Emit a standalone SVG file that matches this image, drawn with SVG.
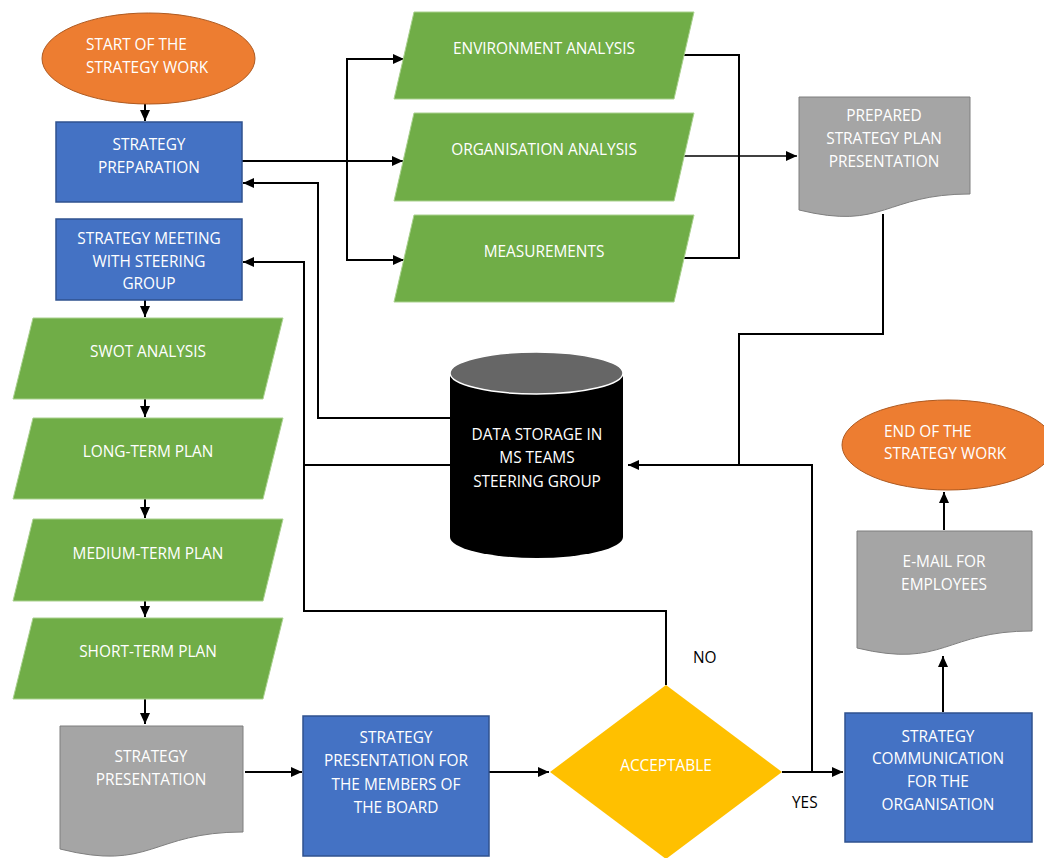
<svg xmlns="http://www.w3.org/2000/svg" width="1044" height="858" viewBox="0 0 1044 858">
<defs>
<marker id="arr" markerUnits="userSpaceOnUse" markerWidth="12" markerHeight="10" refX="11" refY="5" orient="auto">
<path d="M0,0 L11,5 L0,10 Z" fill="#000"/>
</marker>
<style>
text{font-family:"Open Sans","Noto Sans","Liberation Sans",sans-serif;font-size:15.4px;fill:#fff;text-anchor:middle}
.lbl{fill:#000;text-anchor:start}
.st{text-anchor:start}
.term{fill:#ED7D31;stroke:#AE5A21;stroke-width:1}
.proc{fill:#4472C4;stroke:#2F528F;stroke-width:1.5}
.data{fill:#70AD47;stroke:#A9D18E;stroke-width:1}
.doc{fill:#A5A5A5;stroke:#7F7F7F;stroke-width:1}
.dec{fill:#FFC000}
.ln{fill:none;stroke:#000;stroke-width:2}
.thin{stroke-width:1.5}
</style>
</defs>
<rect width="1044" height="858" fill="#fff"/>

<g id="connectors">
<path class="ln" d="M145,104 V121" marker-end="url(#arr)"/>
<path class="ln" d="M242,161 H403" marker-end="url(#arr)"/>
<path class="ln" d="M347,161 V59 H404" marker-end="url(#arr)"/>
<path class="ln" d="M347,161 V260 H404" marker-end="url(#arr)"/>
<path class="ln" d="M684,55 H739 V258 H683"/>
<path class="ln thin" d="M683,156 H797" marker-end="url(#arr)"/>
<path class="ln" d="M883,214 V334 H739 V465 H628" marker-end="url(#arr)"/>
<path class="ln" d="M812,772 V465 H739"/>
<path class="ln" d="M450,418 H318 V183 H243" marker-end="url(#arr)"/>
<path class="ln" d="M450,465 H304 V262 H243" marker-end="url(#arr)"/>
<path class="ln" d="M666,685 V611 H304 V465"/>
<path class="ln" d="M145,300 V317" marker-end="url(#arr)"/>
<path class="ln" d="M145,399 V417" marker-end="url(#arr)"/>
<path class="ln" d="M145,499 V518" marker-end="url(#arr)"/>
<path class="ln" d="M145,601 V617" marker-end="url(#arr)"/>
<path class="ln" d="M145,699 V724" marker-end="url(#arr)"/>
<path class="ln" d="M245,772 H302" marker-end="url(#arr)"/>
<path class="ln" d="M489,772 H549" marker-end="url(#arr)"/>
<path class="ln" d="M782,772 H843" marker-end="url(#arr)"/>
<path class="ln" d="M943,712 V656" marker-end="url(#arr)"/>
<path class="ln" d="M944,530 V492" marker-end="url(#arr)"/>
</g>

<g id="start">
<ellipse class="term" cx="148.5" cy="58.5" rx="106.5" ry="45.5"/>
<text class="st" x="86" y="50">START OF THE</text>
<text class="st" x="86" y="73">STRATEGY WORK</text>
</g>

<g id="prep">
<rect class="proc" x="56" y="122" width="186" height="80"/>
<text x="149" y="150">STRATEGY</text>
<text x="149" y="173">PREPARATION</text>
</g>

<g id="meeting">
<rect class="proc" x="56" y="219" width="186" height="81"/>
<text x="149" y="244">STRATEGY MEETING</text>
<text x="149" y="267">WITH STEERING</text>
<text x="149" y="289">GROUP</text>
</g>

<g id="swot">
<polygon class="data" points="33,318 283,318 263,399 13,399"/>
<text x="148" y="357">SWOT ANALYSIS</text>
</g>
<g id="longterm">
<polygon class="data" points="33,418 283,418 263,499 13,499"/>
<text x="148" y="457">LONG-TERM PLAN</text>
</g>
<g id="mediumterm">
<polygon class="data" points="33,519 283,519 263,601 13,601"/>
<text x="148" y="559">MEDIUM-TERM PLAN</text>
</g>
<g id="shortterm">
<polygon class="data" points="33,618 283,618 263,699 13,699"/>
<text x="148" y="657">SHORT-TERM PLAN</text>
</g>

<g id="env">
<polygon class="data" points="414,12 694,12 674,99 394,99"/>
<text x="544" y="54">ENVIRONMENT ANALYSIS</text>
</g>
<g id="org">
<polygon class="data" points="414,113 694,113 674,201 394,201"/>
<text x="544" y="155">ORGANISATION ANALYSIS</text>
</g>
<g id="meas">
<polygon class="data" points="414,215 694,215 674,302 394,302"/>
<text x="544" y="257">MEASUREMENTS</text>
</g>

<g id="prepared">
<path class="doc" d="M799,97 H970 V194 C884.5,194 884.5,231 799,210 Z"/>
<text x="884" y="121">PREPARED</text>
<text x="884" y="144">STRATEGY PLAN</text>
<text x="884" y="167">PRESENTATION</text>
</g>

<g id="storage">
<path d="M450,373 V537 A86.5,21 0 0 0 623,537 V373 Z" fill="#000"/>
<ellipse cx="536.5" cy="373" rx="86.5" ry="21" fill="#666" stroke="#fff" stroke-width="1.5"/>
<text x="537" y="440">DATA STORAGE IN</text>
<text x="537" y="463">MS TEAMS</text>
<text x="537" y="487">STEERING GROUP</text>
</g>

<g id="end">
<ellipse class="term" cx="948" cy="445" rx="106" ry="45"/>
<text class="st" x="884" y="437">END OF THE</text>
<text class="st" x="884" y="459">STRATEGY WORK</text>
</g>

<g id="email">
<path class="doc" d="M857,531 H1032 V631 C944.5,631 944.5,669 857,648 Z"/>
<text x="944" y="567">E-MAIL FOR</text>
<text x="944" y="590">EMPLOYEES</text>
</g>

<g id="stratpres">
<path class="doc" d="M60,726 H243 V832 C151.5,832 151.5,872 60,849 Z"/>
<text x="151" y="762">STRATEGY</text>
<text x="151" y="785">PRESENTATION</text>
</g>

<g id="board">
<rect class="proc" x="303" y="716" width="186" height="140"/>
<text x="396" y="743">STRATEGY</text>
<text x="396" y="766">PRESENTATION FOR</text>
<text x="396" y="790">THE MEMBERS OF</text>
<text x="396" y="813">THE BOARD</text>
</g>

<g id="acceptable">
<polygon class="dec" points="666,685 782,772 666,859 550,772"/>
<text x="666" y="771">ACCEPTABLE</text>
<text class="lbl" x="693" y="663">NO</text>
<text class="lbl" x="792" y="808">YES</text>
</g>

<g id="communication">
<rect class="proc" x="845" y="713" width="187" height="129"/>
<text x="938" y="742">STRATEGY</text>
<text x="938" y="764">COMMUNICATION</text>
<text x="938" y="787">FOR THE</text>
<text x="938" y="810">ORGANISATION</text>
</g>
</svg>
